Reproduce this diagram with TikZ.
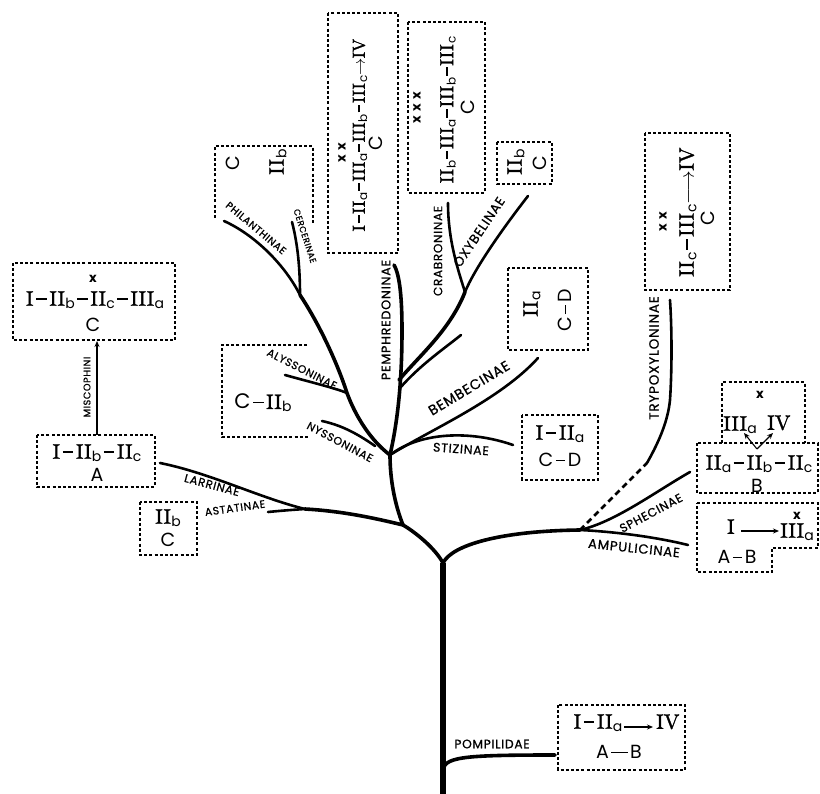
\documentclass[tikz,border=0pt]{standalone}
\usepackage{fontspec}
\setsansfont{Poppins}
\newfontfamily\numfont{lmroman10-regular.otf}[FakeBold=1.3]
\newfontfamily\lblfont{Poppins}[LetterSpace=6, FakeBold=0.8]
\usetikzlibrary{arrows.meta}
\newcommand{\rn}[2]{{\numfont #1}\kern0.3pt\raisebox{-0.3ex}{\sffamily\fontsize{14}{14}\selectfont #2}}
\newcommand{\rs}[2]{{\numfont #1}\kern0.3pt\raisebox{-0.3ex}{\sffamily\fontsize{12}{12}\selectfont #2}}
\newcommand{\dd}{\kern2.5pt\rule[0.28em]{0.5em}{1.6pt}\kern2.5pt}
\newcommand{\ds}{\kern1.5pt\rule[0.28em]{0.45em}{1.5pt}\kern1.5pt}
\tikzset{
 box/.style={draw, line width=1.1pt, dash pattern=on 3pt off 2.2pt},
 tr/.style={line width=5.5pt},
 br/.style={line width=3.6pt, line cap=round},
 tw/.style={line width=2.6pt, line cap=round},
 lbl/.style={font=\lblfont\fontsize{#1}{#1}\selectfont, inner sep=0pt},
 lbl/.default=12,
 tx/.style={font=\fontsize{21}{22}\selectfont, inner sep=0pt},
 sx/.style={font=\sffamily\fontsize{19}{20}\selectfont, inner sep=0pt},
 xm/.style={font=\sffamily\bfseries\fontsize{13}{13}\selectfont, inner sep=0pt},
 ar/.style={-{Stealth[length=6pt,width=5pt]}, line width=1.1pt},
}
\begin{document}
\begin{tikzpicture}[x=1pt,y=-1pt]
\useasboundingbox (0,0) rectangle (820,794);
\fill[white] (0,0) rectangle (820,794);
% ---------- tree coordinates
\coordinate (root) at (443,794);
\coordinate (fork) at (443,563);
\coordinate (pomp) at (555,755);
\coordinate (sph) at (580,530);
\coordinate (nl) at (403,525);
\coordinate (la) at (305,509);
\coordinate (hub) at (390,455);
\coordinate (aly) at (347,393);
\coordinate (pc) at (300,295);
\coordinate (co) at (465,292);
\coordinate (tr1) at (647,463);
% trunk
\draw[tr] (root) -- (fork);
\draw[br] (443,772) .. controls (443,757) and (460,755) .. (pomp);
\draw[br] (fork) .. controls (452,545) and (500,531) .. (sph);
\draw[br] (fork) .. controls (435,548) and (415,532) .. (nl);
\draw[br] (nl) .. controls (395,505) and (390,480) .. (hub);
% left lower
\draw[br] (nl) .. controls (370,517) and (340,511) .. (la);
\draw[tw] (la) .. controls (260,498) and (210,473) .. (160,463);
\draw[tw] (la) .. controls (290,510) and (278,511) .. (268,512);
% upper left
\draw[br] (hub) .. controls (370,440) and (355,415) .. (aly) .. controls (338,365) and (320,325) .. (pc);
\draw[tw] (aly) .. controls (335,388) and (310,382) .. (285,375);
\draw[tw] (375,446) .. controls (355,432) and (340,425) .. (322,421);
\draw[tw] (pc) .. controls (285,265) and (255,235) .. (224,221);
\draw[tw] (pc) .. controls (300,270) and (298,245) .. (292,222);
% centre
\draw[br] (hub) .. controls (398,420) and (402,380) .. (402,330) .. controls (402,300) and (400,275) .. (394,265);
\draw[tw] (400,388) .. controls (420,365) and (445,348) .. (461,335);
\draw[br] (399,380) .. controls (420,355) and (450,330) .. (co);
\draw[tw] (co) .. controls (458,270) and (448,240) .. (448,203);
\draw[tw] (co) .. controls (474,270) and (500,232) .. (528,196);
\draw[tw] (hub) .. controls (430,430) and (500,400) .. (538,358);
\draw[tw] (hub) .. controls (420,432) and (470,430) .. (513,445);
% right
\draw[tw] (sph) .. controls (615,522) and (655,492) .. (690,472);
\draw[tw] (sph) .. controls (620,532) and (660,538) .. (688,545);
\draw[tw, dash pattern=on 6pt off 4pt, line cap=butt] (sph) -- (tr1);
\draw[tw] (tr1) .. controls (660,440) and (668,420) .. (670,400) .. controls (672,370) and (672,330) .. (670,300);
% ---------- labels
\node[lbl=10.2,rotate=-40] (lphil) at (256,228) {PHILANTHINAE};
\node[lbl=8.7,rotate=-72] (lcerc) at (305,236) {CERCERINAE};
\node[lbl=10.8,rotate=-27] (laly) at (302,369) {ALYSSONINAE};
\node[lbl=11,rotate=-28] (lnys) at (340,442) {NYSSONINAE};
\node[lbl=12.7,rotate=90] (lpem) at (386,320) {PEMPHREDONINAE};
\node[lbl=12,rotate=90] (lcra) at (438,251) {CRABRONINAE};
\node[lbl=13,rotate=56] (loxy) at (479,232) {OXYBELINAE};
\node[lbl=14,rotate=31] (lbem) at (469,388) {BEMBECINAE};
\node[lbl=12.5,rotate=-4] (lsti) at (461,449) {STIZINAE};
\node[lbl=11.6,rotate=-15] (llar) at (212,485) {LARRINAE};
\node[lbl=10.8,rotate=8] (last) at (235,508) {ASTATINAE};
\node[lbl=9.7,rotate=90] (lmis) at (87,387) {MISCOPHINI};
\node[lbl=13.5,rotate=90] (ltry) at (654,358) {TRYPOXYLONINAE};
\node[lbl=12,rotate=28] (lsph) at (651,513) {SPHECINAE};
\node[lbl=13.2,rotate=-6] (lamp) at (634,548) {AMPULICINAE};
\node[lbl=12.2] (lpom) at (492,744) {POMPILIDAE};
% ---------- boxes
% Miscophini top
\draw[box] (13,263) rectangle (175,340);
\node[xm] (ax) at (93,279) {x};
\node[tx] (al) at (95,300) {\rn{I}{}\dd\rn{II}{b}\dd\rn{II}{c}\dd\rn{III}{a}};
\node[sx] (ac) at (93,325) {C};
% Larrinae box
\draw[box] (37,435) rectangle (155,487);
\node[tx] (bl) at (97,453) {\rn{I}{}\dd\rn{II}{b}\dd\rn{II}{c}};
\node[sx] (bc) at (97,475) {A};
\coordinate (mis0) at (97,435);
\coordinate (mis1) at (97,341);
\draw[ar] (mis0) -- (mis1);
% Astatinae
\draw[box] (140,502) rectangle (197,555);
\node[tx] (cl) at (168,518) {\rn{II}{b}};
\node[sx] (cc) at (168,540) {C};
% Alyssoninae
\draw[box] (307,345) -- (222,345) -- (222,437) -- (310,437);
\node[tx] (dl) at (263,403) {{\sffamily C}\dd\rn{II}{b}};
% Philanthinae open box
\draw[box] (215,218) -- (215,146) -- (313,146) -- (313,225);
\node[sx,rotate=90] (pc1) at (233,163) {C};
\node[tx,rotate=90] (pc2) at (278,162) {\rn{II}{b}};
% Pemphredoninae big
\draw[box] (328,13) rectangle (398,253);
\node[tx,font=\fontsize{17.5}{18}\selectfont,rotate=90] (pm) at (360,135) {\rs{I}{}\ds\rs{II}{a}\ds\rs{III}{a}\ds\rs{III}{b}\ds\rs{III}{c}$\rightarrow$\rs{IV}{}};
\node[xm,rotate=90] (px) at (342,153) {x\,\,x};
\node[sx,rotate=90] (pcc) at (376,143) {C};
% Crabroninae big
\draw[box] (408,22) rectangle (485,193);
\node[tx,font=\fontsize{19}{20}\selectfont,rotate=90] (cm) at (448,110) {\rs{II}{b}\ds\rs{III}{a}\ds\rs{III}{b}\ds\rs{III}{c}};
\node[xm,rotate=90] (cx) at (417,108) {x\,\,x\,\,x};
\node[sx,rotate=90] (ccc) at (468,107) {C};
% Oxybelinae small
\draw[box] (497,142) rectangle (552,184);
\node[tx,rotate=90] (ob1) at (516,162) {\rn{II}{b}};
\node[sx,rotate=90] (ob2) at (540,163) {C};
% IIa C-D
\draw[box] (508,268) rectangle (588,350);
\node[tx,rotate=90] (e1) at (532,304) {\rn{II}{a}};
\node[sx,rotate=90] (e2) at (565,310) {C\dd D};
% Stizinae
\draw[box] (522,415) rectangle (598,480);
\node[tx] (f1) at (560,434) {\rn{I}{}\dd\rn{II}{a}};
\node[sx] (f2) at (560,460) {C\dd D};
% Trypoxyloninae
\draw[box] (645,133) rectangle (730,290);
\node[tx,rotate=90] (g1) at (688,212) {\rn{II}{c}\dd\rn{III}{c}$\longrightarrow$\rn{IV}{}};
\node[xm,rotate=90] (g2) at (663,222) {x\,\,x};
\node[sx,rotate=90] (g3) at (708,218) {C};
% Sphecinae boxes
\draw[box] (722,443) -- (722,382) -- (805,382) -- (805,443);
\node[xm] (h1) at (760,395) {x};
\node[tx] (h2) at (740,425) {\rn{III}{a}};
\node[tx] (h3) at (779,424) {\rn{IV}{}};
\coordinate (hv) at (757,449);
\draw[ar] (hv) -- (744,433);
\draw[ar] (hv) -- (773,433);
\draw[box] (697,443) rectangle (818,493);
\node[tx] (i1) at (759,464) {\rn{II}{a}\dd\rn{II}{b}\dd\rn{II}{c}};
\node[sx] (i2) at (757,486) {B};
% Ampulicinae
\draw[box] (697,503) -- (818,503) -- (818,548) -- (772,548) -- (772,572) -- (697,572) -- cycle;
\node[tx] (j1) at (731,528) {\rn{I}{}};
\node[tx] (j2) at (797,532) {\rn{III}{a}};
\node[xm] (j3) at (797,516) {x};
\coordinate (ja) at (741,531);
\coordinate (jb) at (779,531);
\draw[ar] (ja) -- (jb);
\node[sx] (j4) at (737,557) {A\dd B};
% Pompilidae
\draw[box] (558,705) rectangle (685,770);
\node[tx] (k1) at (598,723) {\rn{I}{}\dd\rn{II}{a}};
\node[tx] (k2) at (668,723) {\rn{IV}{}};
\coordinate (ka) at (624,727);
\coordinate (kb) at (653,727);
\draw[ar] (ka) -- (kb);
\node[sx] (k3) at (619,752) {A\kern2pt\rule[0.28em]{0.9em}{1.6pt}\kern2pt B};
\end{tikzpicture}
\end{document}
